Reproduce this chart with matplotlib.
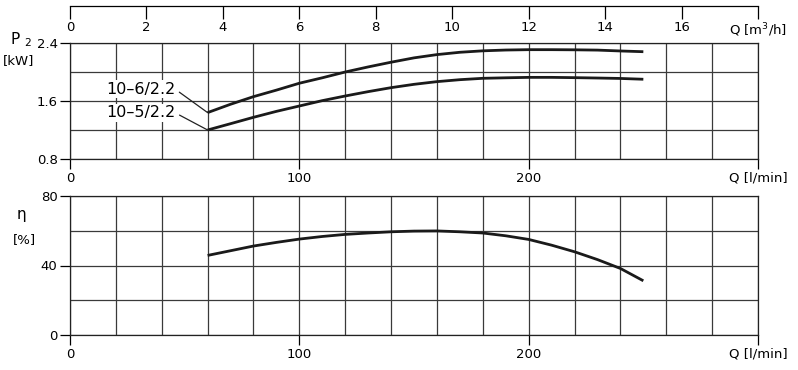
import numpy as np
import matplotlib
matplotlib.use('Agg')
import matplotlib.pyplot as plt

plt.rcParams['font.family'] = ['DejaVu Sans Condensed', 'DejaVu Sans']
plt.rcParams['mathtext.default'] = 'regular'
fs = 9.5

# flow in l/min
q = [60, 70, 80, 90, 100, 110, 120, 130, 140, 150, 160, 170, 180, 190, 200,
     210, 220, 230, 240, 250]
p2_106 = [1.44, 1.555, 1.66, 1.75, 1.845, 1.92, 2.00, 2.07, 2.135, 2.195,
          2.24, 2.272, 2.292, 2.303, 2.308, 2.308, 2.306, 2.302, 2.29, 2.28]
p2_105 = [1.20, 1.287, 1.375, 1.457, 1.531, 1.605, 1.669, 1.729, 1.784, 1.83,
          1.867, 1.894, 1.913, 1.92, 1.926, 1.926, 1.922, 1.917, 1.911, 1.90]
eta = [45.8, 48.5, 51.2, 53.3, 55.2, 56.7, 57.9, 58.7, 59.4, 59.8,
       59.9, 59.4, 58.7, 57.1, 55.0, 51.7, 47.9, 43.4, 38.3, 31.2]

x_ticks = [0, 100, 200, 300]
x_labels = ['0', '100', '200', 'Q [l/min]']
m3h_ticks = [0, 2, 4, 6, 8, 10, 12, 14, 16, 18]
m3h_labels = ['0', '2', '4', '6', '8', '10', '12', '14', '16', r'Q [m$^3$/h]']

W, H = 798, 370
fig = plt.figure(figsize=(W / 100, H / 100), dpi=100)

def box(l, t, r, b):
    return [l / W, 1 - b / H, (r - l) / W, (b - t) / H]

def style(ax, ylim, ymaj, ylab, ystep):
    ax.set_xlim(0, 300)
    ax.set_ylim(*ylim)
    ax.set_xticks(x_ticks)
    ax.set_xticklabels(x_labels)
    ax.set_xticks(np.arange(0, 301, 20), minor=True)
    ax.set_yticks(ymaj)
    ax.set_yticklabels(ylab)
    ax.set_yticks(np.arange(ylim[0], ylim[1] + 1e-9, ystep), minor=True)
    ax.grid(True, which='both', color='#3a3a3a', linewidth=0.9)
    ax.tick_params(which='major', direction='out', length=7, width=0.9,
                   labelsize=fs, colors='black', pad=2)
    ax.tick_params(which='minor', length=0)
    for s in ax.spines.values():
        s.set_linewidth(0.9)
        s.set_color('#222222')
    ax.set_axisbelow(True)

line_kw = dict(color='#1a1a1a', linewidth=2.0, solid_capstyle='butt',
               solid_joinstyle='round')

ax1 = fig.add_axes(box(70, 43, 758, 159))
ax1.plot(q, p2_106, **line_kw)
ax1.plot(q, p2_105, **line_kw)
style(ax1, (0.8, 2.4), [0.8, 1.6, 2.4], ['0.8', '1.6', '2.4'], 0.4)

for name, y0, ytxt in [('10\u20136/2.2', p2_106[0], 1.76),
                       ('10\u20135/2.2', p2_105[0], 1.435)]:
    ax1.annotate(name, xy=(q[0], y0), xytext=(46, ytxt),
                 ha='right', va='center', fontsize=11.5,
                 bbox=dict(boxstyle='square,pad=0.1', fc='white', ec='none'),
                 arrowprops=dict(arrowstyle='-', color='#222222', lw=0.9,
                                 relpos=(1, 0.5), shrinkA=2, shrinkB=0))

ax2 = fig.add_axes(box(70, 196, 758, 335))
ax2.plot(q, eta, **line_kw)
style(ax2, (0, 80), [0, 40, 80], ['0', '40', '80'], 20)

# m3/h scale on top
ax3 = fig.add_axes(box(70, 6, 758, 6.01))
ax3.set_xlim(0, 18)
ax3.set_ylim(0, 1)
ax3.set_yticks([])
ax3.set_xticks(m3h_ticks)
ax3.set_xticklabels(m3h_labels)
ax3.tick_params(axis='x', direction='out', length=9, width=0.9,
                labelsize=fs, pad=2)
for k in ['left', 'right', 'bottom']:
    ax3.spines[k].set_visible(False)
ax3.spines['top'].set_linewidth(0.9)
ax3.patch.set_visible(False)

fig.text(21 / W, 1 - 40 / H, r'P $_2$', ha='center', va='center', fontsize=11)
fig.text(19 / W, 1 - 61 / H, '[kW]', ha='center', va='center', fontsize=fs)
fig.text(21 / W, 1 - 215 / H, '\u03b7', ha='center', va='center', fontsize=11)
fig.text(24 / W, 1 - 240 / H, '[%]', ha='center', va='center', fontsize=fs)

plt.savefig('out.png', dpi=100)
